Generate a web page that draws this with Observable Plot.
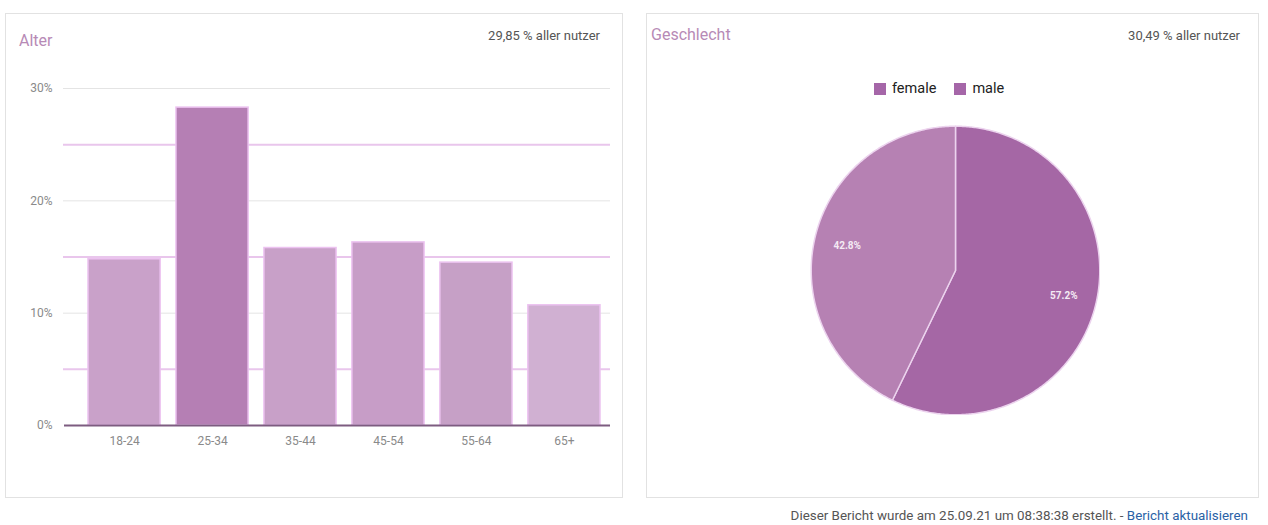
<!DOCTYPE html>
<html>
<head>
<meta charset="utf-8">
<script src="https://cdn.jsdelivr.net/npm/d3@7"></script>
<script src="https://cdn.jsdelivr.net/npm/@observablehq/plot@0.6"></script>
<style>
  html, body { margin: 0; padding: 0; background: #fff; font-family: Roboto, "Noto Sans", sans-serif; }
  #root { position: relative; width: 1268px; height: 525px; overflow: hidden; }
  .panel { position: absolute; border: 1px solid #e2e2e2; box-sizing: border-box; }
  .ptitle { position: absolute; font-size: 16px; color: #b78ab6; }
  .pnote { position: absolute; font-size: 13px; color: #555; text-align: right; }
  .abs { position: absolute; }
  #legend { position: absolute; top: 80px; left: 874px; font-size: 14.5px; color: #222; display: flex; align-items: center; }
  #legend .sw { display: inline-block; width: 12px; height: 12px; background: #a566a8; margin-right: 6px; }
  #legend span.item { display: inline-flex; align-items: center; margin-right: 18px; }
  #footer { position: absolute; right: 20px; top: 508px; font-size: 13.4px; color: #555; }
  #footer a { color: #2a62a6; text-decoration: none; }
</style>
</head>
<body>
<div id="root">
  <div class="panel" style="left:5px; top:13px; width:618px; height:485px;"></div>
  <div class="panel" style="left:646px; top:13px; width:613px; height:485px;"></div>
  <div class="ptitle" style="left:19px; top:31px;">Alter</div>
  <div class="pnote" style="right:668px; top:28px;">29,85 % aller nutzer</div>
  <div class="ptitle" style="left:651px; top:25px;">Geschlecht</div>
  <div class="pnote" style="right:28px; top:28px;">30,49 % aller nutzer</div>
  <div id="bars" class="abs" style="left:0px; top:60px;"></div>
  <div id="legend"></div>
  <div id="pie" class="abs" style="left:810px; top:125px;"></div>
  <div id="footer">Dieser Bericht wurde am 25.09.21 um 08:38:38 erstellt. - <a href="#">Bericht aktualisieren</a></div>
</div>
<script>
// ---- Data ----
const ageGroups = ["18-24", "25-34", "35-44", "45-54", "55-64", "65+"];
const agePercent = [14.8, 28.3, 15.8, 16.3, 14.5, 10.7];
const ageColors = ["#c9a1c9", "#b57fb4", "#c8a0c8", "#c79dc7", "#c6a0c6", "#d0b0d2"];
const yTicksMajor = [0, 10, 20, 30];
const yTicksMinor = [5, 15, 25];

const genders = ["female", "male"];
const genderPercent = [42.8, 57.2];
const genderColors = ["#b681b3", "#a567a5"];
const legendColor = "#a566a8";

// ---- Bar chart ----
const ageData = ageGroups.map((g, i) => ({group: g, pct: agePercent[i]}));
const bars = Plot.plot({
  width: 625,
  height: 400,
  marginLeft: 88,
  marginRight: 25,
  marginTop: 28,
  marginBottom: 35,
  style: {fontFamily: "Roboto, sans-serif", fontSize: "12px", color: "#888", background: "transparent"},
  x: {domain: ageGroups, paddingInner: 0.18, paddingOuter: 0, round: false, label: null, tickSize: 0, tickPadding: 11},
  y: {domain: [0, 30], ticks: yTicksMajor, tickFormat: d => d + "%", label: null, tickSize: 0, tickPadding: 36},
  color: {domain: ageGroups, range: ageColors},
  marks: [
    Plot.ruleY(yTicksMajor.filter(d => d > 0), {stroke: "#e4e4e4", strokeWidth: 1, insetLeft: -25, insetRight: -10}),
    Plot.ruleY(yTicksMinor, {stroke: "#e9c6ec", strokeWidth: 2, insetLeft: -25, insetRight: -10}),
    Plot.barY(ageData, {x: "group", y: "pct", fill: "group", stroke: "#ecc2f0", strokeWidth: 1.5}),
    Plot.ruleY([0], {stroke: "#7d5c80", strokeWidth: 2, insetLeft: -24, insetRight: -10})
  ]
});
bars.querySelectorAll("g[aria-label='x-axis tick label'] text, g[aria-label='y-axis tick label'] text").forEach(t => t.setAttribute("fill", "#8a8a8a"));
document.getElementById("bars").appendChild(bars);

// ---- Legend ----
const legend = document.getElementById("legend");
genders.forEach(g => {
  const s = document.createElement("span");
  s.className = "item";
  s.innerHTML = `<span class="sw" style="background:${legendColor}"></span>${g}`;
  legend.appendChild(s);
});

// ---- Pie ----
// male starts at top going clockwise, then female
const order = ["male", "female"];
const pieIn = order.map(g => ({gender: g, pct: genderPercent[genders.indexOf(g)]}));
const arcs = d3.pie().sort(null).value(d => d.pct)(pieIn);
const polys = [];
arcs.forEach(a => {
  const n = Math.max(8, Math.ceil((a.endAngle - a.startAngle) / 0.01));
  polys.push({gender: a.data.gender, x: 0, y: 0});
  for (let k = 0; k <= n; k++) {
    const t = a.startAngle + (a.endAngle - a.startAngle) * k / n;
    polys.push({gender: a.data.gender, x: Math.sin(t), y: Math.cos(t)});
  }
  polys.push({gender: a.data.gender, x: 0, y: 0});
});
const labels = arcs.map(a => {
  const m = (a.startAngle + a.endAngle) / 2;
  return {gender: a.data.gender, x: 0.77 * Math.sin(m), y: 0.77 * Math.cos(m), text: a.data.pct.toFixed(1) + "%"};
});
const pie = Plot.plot({
  width: 290,
  height: 290,
  margin: 0,
  x: {domain: [-1.005, 1.005], axis: null},
  y: {domain: [-1.005, 1.005], axis: null},
  color: {domain: genders, range: genderColors},
  style: {background: "transparent"},
  marks: [
    Plot.line(polys, {x: "x", y: "y", z: "gender", fill: "gender", stroke: "#ecd3ee", strokeWidth: 1.5, curve: "linear"}),
    Plot.text(labels, {x: "x", y: "y", text: "text", fill: "#f4eaf4", fontSize: 10, fontFamily: "Roboto, sans-serif", fontWeight: "bold"})
  ]
});
document.getElementById("pie").appendChild(pie);
</script>
</body>
</html>
